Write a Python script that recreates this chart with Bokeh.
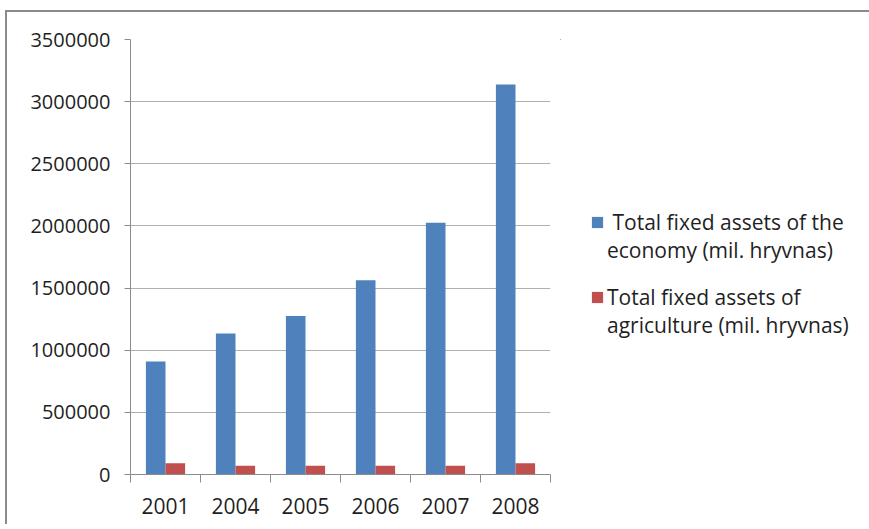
from bokeh.plotting import figure
from bokeh.layouts import row
from bokeh.models import Range1d, FixedTicker, Legend, LegendItem, ColumnDataSource
from bokeh.embed import file_html
from bokeh.resources import INLINE

years = ["2001", "2004", "2005", "2006", "2007", "2008"]
economy = [910000, 1135000, 1275000, 1563000, 2026000, 3137000]
agriculture = [90000, 70000, 70000, 70000, 70000, 90000]
y_ticks = [0, 500000, 1000000, 1500000, 2000000, 2500000, 3000000, 3500000]
label_economy = [" Total fixed assets of the", "economy (mil. hryvnas)"]
label_agri = ["Total fixed assets of", "agriculture (mil. hryvnas)"]

FONT = "Open Sans"
TEXT = "#1f1f1f"
BLUE = "#4f81bd"
RED = "#c0504d"

n = len(years)
centers = [i + 0.5 for i in range(n)]
bar_w = 0.28
src = ColumnDataSource(dict(
    x_e=[c - bar_w / 2 for c in centers],
    x_a=[c + bar_w / 2 for c in centers],
    economy=economy,
    agriculture=agriculture,
))

p = figure(width=553, height=512,
           x_range=Range1d(0, n), y_range=Range1d(0, max(y_ticks)),
           output_backend="svg", toolbar_location=None,
           min_border_left=123, min_border_right=10,
           min_border_top=27, min_border_bottom=50)
p.outline_line_color = None
p.background_fill_color = "white"
p.border_fill_color = "white"
p.styles = {"overflow": "hidden"}

p.vbar(x="x_e", top="economy", width=bar_w, source=src, fill_color=BLUE, line_color=None)
p.vbar(x="x_a", top="agriculture", width=bar_w, source=src, fill_color=RED, line_color=None)

# y axis
p.yaxis.ticker = FixedTicker(ticks=y_ticks)
p.yaxis.axis_line_color = "#8c8c8c"
p.yaxis.major_tick_line_color = "#8c8c8c"
p.yaxis.major_tick_out = 6
p.yaxis.major_tick_in = 0
p.yaxis.minor_tick_line_color = None
p.yaxis.major_label_text_font = FONT
p.yaxis.major_label_text_font_size = "20px"
p.yaxis.major_label_text_color = TEXT
p.yaxis.major_label_standoff = 14
p.yaxis.formatter.use_scientific = False

# x axis
p.xaxis.ticker = FixedTicker(ticks=centers, minor_ticks=list(range(n + 1)))
p.xaxis.major_label_overrides = {c: y for c, y in zip(centers, years)}
p.xaxis.axis_line_color = "#8c8c8c"
p.xaxis.major_tick_line_color = None
p.xaxis.major_tick_out = 0
p.xaxis.major_tick_in = 0
p.xaxis.minor_tick_line_color = "#8c8c8c"
p.xaxis.minor_tick_out = 8
p.xaxis.minor_tick_in = 0
p.xaxis.major_label_text_font = FONT
p.xaxis.major_label_text_font_size = "21px"
p.xaxis.major_label_text_color = TEXT
p.xaxis.major_label_standoff = 15

p.xgrid.grid_line_color = None
p.ygrid.ticker = FixedTicker(ticks=y_ticks)
p.ygrid.grid_line_color = "#b0b0b0"
p.ygrid.grid_line_width = 1

# legend panel (its key renderers lie far outside its visible ranges)
q = figure(width=309, height=512, x_range=Range1d(1000, 1001), y_range=Range1d(-1e12, -1e12 + 1),
           output_backend="svg", toolbar_location=None,
           x_axis_type=None, y_axis_type=None, min_border=0)
q.outline_line_color = None
q.xgrid.grid_line_color = None
q.ygrid.grid_line_color = None
q.background_fill_color = "white"
q.border_fill_color = "white"
q.styles = {"overflow": "hidden"}
k1 = q.vbar(x="x_e", top="economy", width=bar_w, source=src, fill_color=BLUE, line_color=None)
k2 = q.vbar(x="x_a", top="agriculture", width=bar_w, source=src, fill_color=RED, line_color=None)
blank = q.vbar(x="x_e", top="economy", width=bar_w, source=src, fill_alpha=0, line_alpha=0)


def make_legend(lines, renderer, y):
    lg = Legend(items=[LegendItem(label=lines[0], renderers=[renderer]),
                       LegendItem(label=lines[1], renderers=[blank])],
                location=(30, y))
    lg.glyph_width = 14
    lg.glyph_height = 14
    lg.label_standoff = 3
    lg.label_height = 28
    lg.padding = 0
    lg.margin = 0
    lg.spacing = 0
    lg.border_line_color = None
    lg.background_fill_alpha = 0
    lg.label_text_font = FONT
    lg.label_text_font_size = "21px"
    lg.label_text_color = TEXT
    return lg


q.add_layout(make_legend(label_economy, k1, 210))
q.add_layout(make_legend(label_agri, k2, 135))

layout = row(p, q)
layout.margin = (12, 0, 0, 7)
layout.styles = {"border-top": "2px solid #8a8a8a", "border-left": "2px solid #8a8a8a",
                 "margin-top": "10px", "margin-left": "5px", "overflow": "hidden"}

open("out.html", "w").write(file_html(layout, INLINE))
